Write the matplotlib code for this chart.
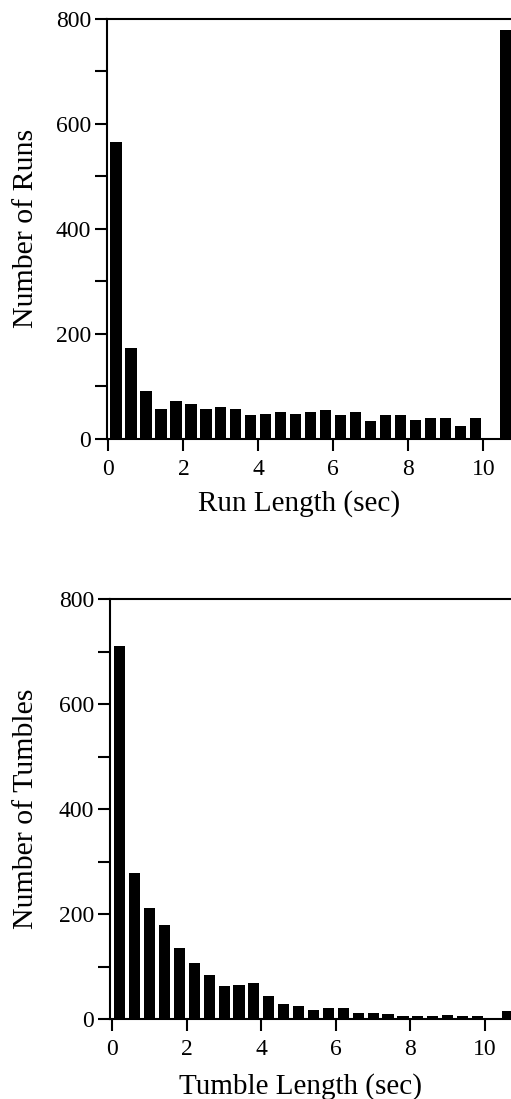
import matplotlib
matplotlib.use("Agg")
import matplotlib.pyplot as plt
from matplotlib.ticker import MultipleLocator

# ---- data ----
bin_centers = [0.2, 0.6, 1.0, 1.4, 1.8, 2.2, 2.6, 3.0, 3.4, 3.8, 4.2, 4.6, 5.0,
               5.4, 5.8, 6.2, 6.6, 7.0, 7.4, 7.8, 8.2, 8.6, 9.0, 9.4, 9.8, 10.6]
run_counts = [565, 173, 90, 56, 72, 66, 56, 60, 56, 45, 47, 50, 47,
              50, 54, 45, 50, 34, 45, 45, 36, 40, 40, 25, 40, 779]
tumble_counts = [711, 279, 212, 180, 136, 107, 84, 63, 65, 68, 43, 28, 25,
                 18, 21, 21, 11, 11, 9, 5, 5, 5, 8, 5, 5, 15]
x_ticks = [0, 2, 4, 6, 8, 10]
y_ticks = [0, 200, 400, 600, 800]
top_xlabel = "Run Length (sec)"
top_ylabel = "Number of Runs"
bot_xlabel = "Tumble Length (sec)"
bot_ylabel = "Number of Tumbles"

plt.rcParams['font.family'] = ['Liberation Serif', 'DejaVu Serif']

W, H = 511, 1099
fig = plt.figure(figsize=(W / 100, H / 100), dpi=100)


def style(ax, xlim, xlabel, ylabel, xlab_coords, ylab_x):
    ax.set_xlim(*xlim)
    ax.set_ylim(0, 800)
    ax.set_xticks(x_ticks)
    ax.set_yticks(y_ticks)
    ax.yaxis.set_minor_locator(MultipleLocator(100))
    for s in ['top', 'left', 'bottom']:
        ax.spines[s].set_linewidth(1.5)
        ax.spines[s].set_color('black')
    ax.spines['right'].set_visible(False)
    ax.tick_params(axis='both', which='both', direction='out', length=8.6,
                   width=1.5, color='black', labelsize=17)
    ax.tick_params(axis='y', which='both', pad=3)
    ax.tick_params(axis='x', which='major', pad=6)
    ax.tick_params(axis='x', which='minor', length=0)
    ax.set_xlabel(xlabel, fontsize=21)
    ax.set_ylabel(ylabel, fontsize=21.5)
    ax.xaxis.set_label_coords(*xlab_coords)
    ax.yaxis.set_label_coords(ylab_x, 0.5)


ax1 = fig.add_axes([107.3 / W, 660.3 / H, 1 - 107.3 / W, 419.7 / H])
ax1.bar(bin_centers, run_counts, width=0.3, color='black', edgecolor='none')
style(ax1, (-0.03, 10.74), top_xlabel, top_ylabel, (0.475, -0.122), -0.169)

ax2 = fig.add_axes([110 / W, 80 / H, 1 - 110 / W, 419.7 / H])
ax2.bar(bin_centers, tumble_counts, width=0.3, color='black', edgecolor='none')
style(ax2, (-0.062, 10.70), bot_xlabel, bot_ylabel, (0.474, -0.129), -0.177)

fig.savefig("out.png", dpi=100)
